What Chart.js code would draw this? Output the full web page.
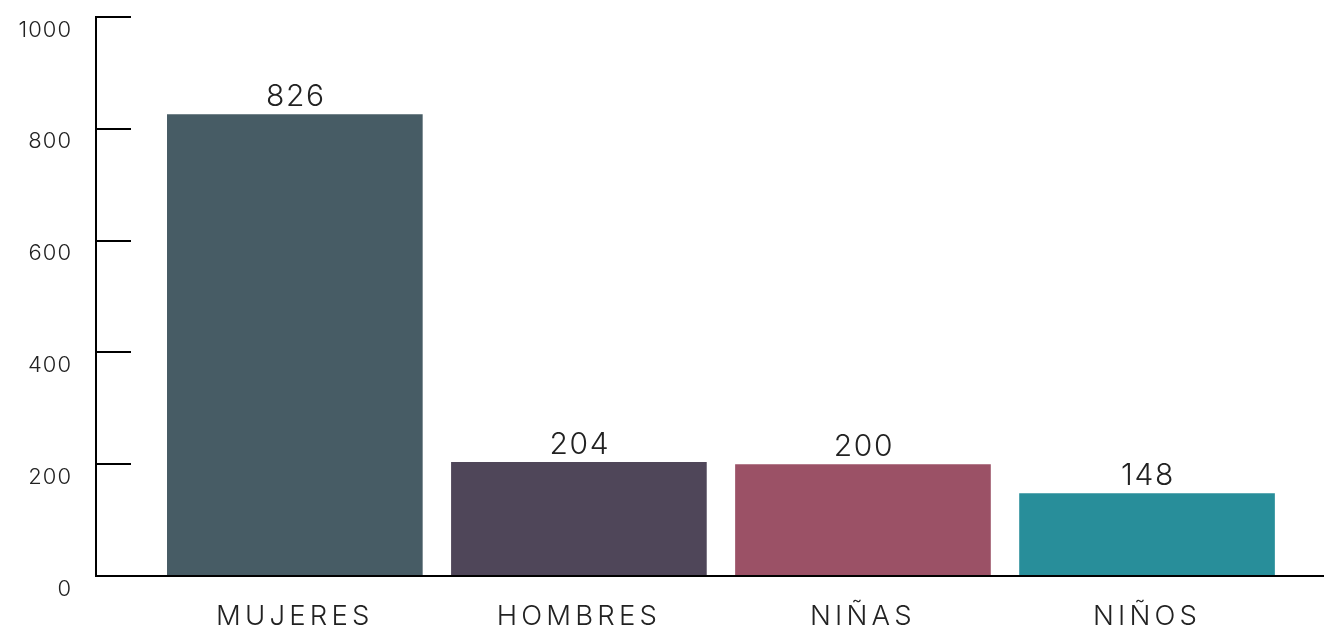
<!DOCTYPE html>
<html>
<head>
<meta charset="utf-8">
<script src="https://cdn.jsdelivr.net/npm/chart.js@4.4.0/dist/chart.umd.min.js"></script>
<style>
    body { margin: 0; background: #fff; }
    #wrap { width: 1324px; height: 627px; }
</style>
</head>
<body>
<div id="wrap"><canvas id="chart" width="1324" height="627"></canvas></div>
<script>
// --- Data ---
const categories = ['MUJERES', 'HOMBRES', 'NIÑAS', 'NIÑOS'];
const values = [826, 204, 200, 148];
const barColors = ['#475c65', '#4f4659', '#9b5166', '#288e9a'];
const yTicks = [0, 200, 400, 600, 800, 1000];

const FONT = "Inter, 'DejaVu Sans', sans-serif";
const TEXT = '#222222';

// --- Letter spacing per text group + value labels above bars ---
const textStyle = {
    id: 'textStyle',
    beforeDraw(chart) { chart.ctx.letterSpacing = '4.2px'; },       // x labels (z = 0)
    beforeDatasetsDraw(chart) { chart.ctx.letterSpacing = '0px'; },
    afterDatasetsDraw(chart) {
        const ctx = chart.ctx;
        const meta = chart.getDatasetMeta(0);
        ctx.save();
        ctx.letterSpacing = '1.7px';
        ctx.font = '300 30px ' + FONT;
        ctx.fillStyle = TEXT;
        ctx.textAlign = 'center';
        ctx.textBaseline = 'alphabetic';
        meta.data.forEach((bar, i) => {
            ctx.fillText(values[i], bar.x + 1, bar.y - 8);
        });
        ctx.restore();
        ctx.letterSpacing = '1px';                                   // y labels (z = 1)
    },
    afterDraw(chart) { chart.ctx.letterSpacing = '0px'; }
};

new Chart(document.getElementById('chart'), {
    type: 'bar',
    data: {
        datasets: [{
            data: categories.map((c, i) => ({ x: i, y: values[i] })),
            backgroundColor: barColors,
            borderWidth: 0,
            categoryPercentage: 1,
            barPercentage: 0.9
        }]
    },
    options: {
        responsive: false,
        devicePixelRatio: 1,
        animation: false,
        layout: { padding: { top: 17, right: 0, bottom: 0, left: 0 } },
        plugins: { legend: { display: false }, tooltip: { enabled: false } },
        scales: {
            x: {
                type: 'linear',
                offset: false,
                min: -0.7,
                max: 3.623,
                afterBuildTicks: s => { s.ticks = categories.map((c, i) => ({ value: i })); },
                afterFit: s => { s.height = 51; },
                grid: { display: false, drawTicks: false, offset: false },
                border: { display: true, color: '#000', width: 2 },
                ticks: {
                    autoSkip: false,
                    maxRotation: 0,
                    padding: 24,
                    color: TEXT,
                    font: { family: FONT, size: 27.5, weight: 300, lineHeight: 1.2 },
                    callback: v => categories[v]
                }
            },
            y: {
                min: 0,
                max: 1000,
                afterBuildTicks: s => { s.ticks = yTicks.map(v => ({ value: v })); },
                afterFit: s => { s.width = 96; s.paddingTop = 0; s.paddingBottom = 0; },
                grid: { drawOnChartArea: false, color: '#000', lineWidth: 2, tickLength: -35 },
                border: { display: true, color: '#000', width: 2 },
                ticks: {
                    z: 1,
                    padding: 59,
                    labelOffset: 13,
                    color: TEXT,
                    font: { family: FONT, size: 22, weight: 300 },
                    callback: v => String(v)
                }
            }
        }
    },
    plugins: [textStyle]
});
</script>
</body>
</html>
